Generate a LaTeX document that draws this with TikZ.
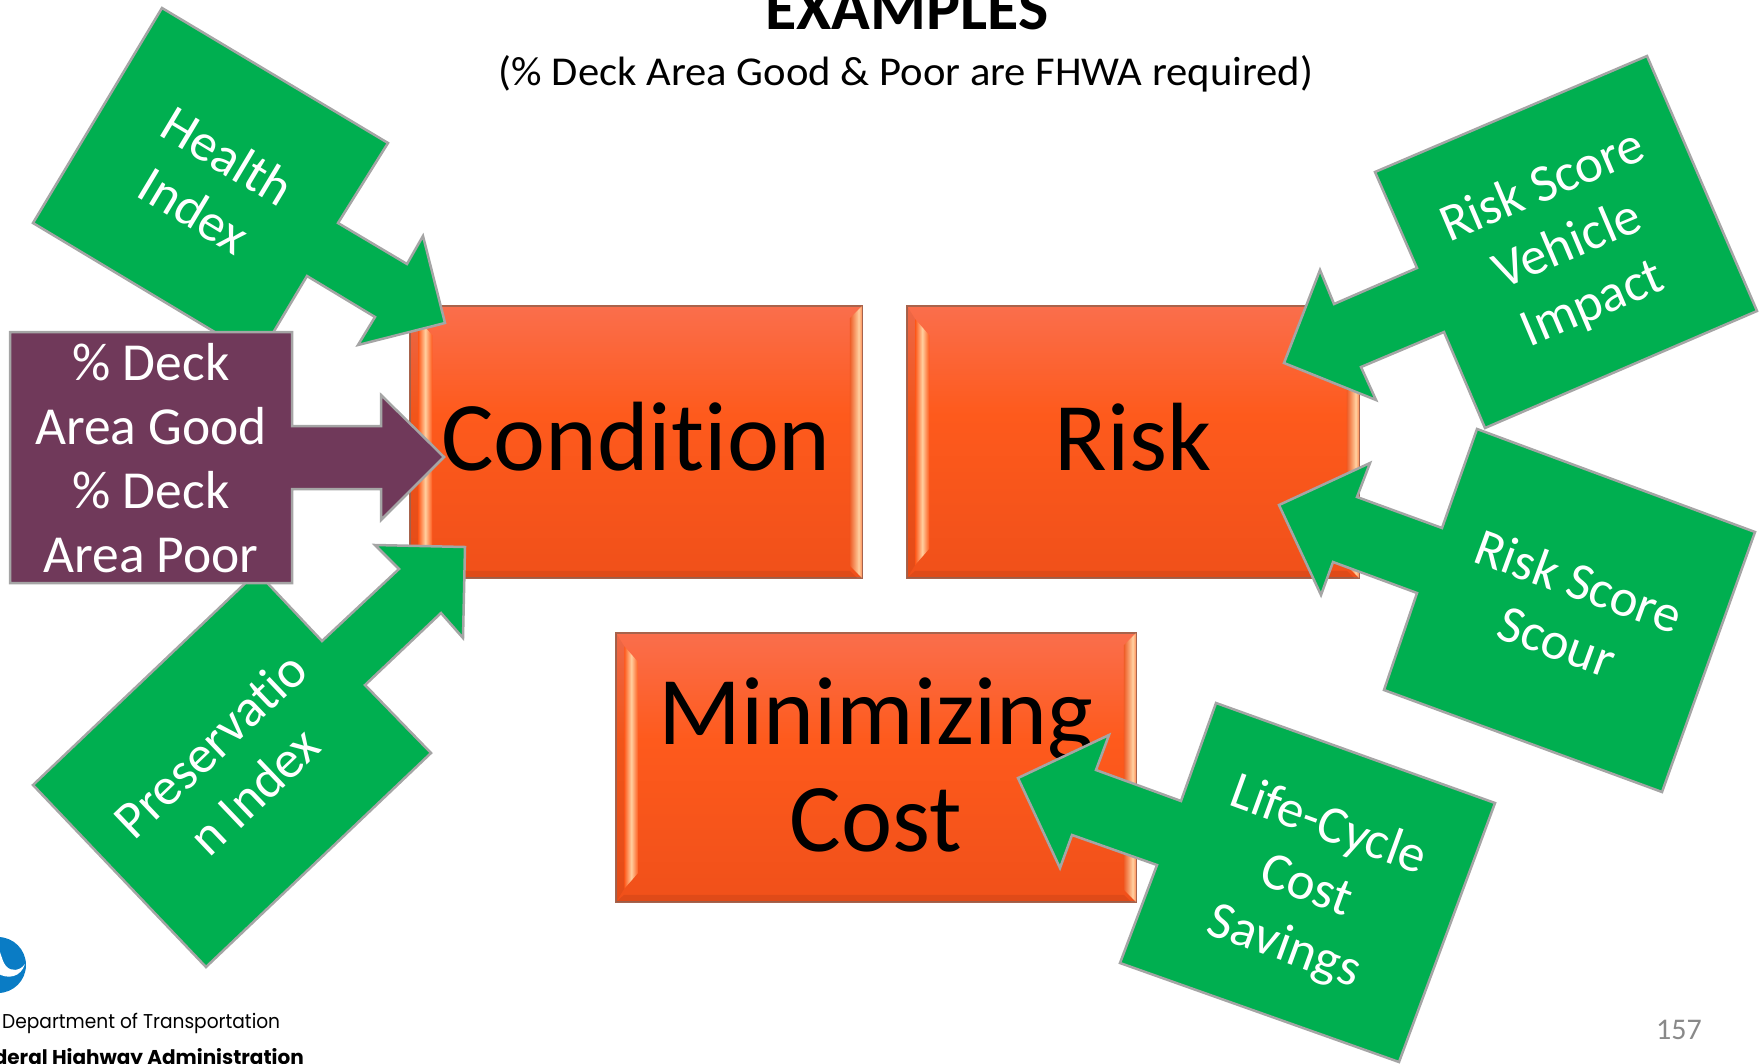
\documentclass[tikz,border=0pt]{standalone}
\usepackage{fontspec}
\setmainfont[Ligatures=NoCommon]{Carlito}
\newfontfamily\logofont{Poppins}
\usetikzlibrary{calc}
\definecolor{boxtop}{HTML}{FA6E4C}
\definecolor{boxmid}{HTML}{FE5A1C}
\definecolor{boxlow}{HTML}{F0501A}
\definecolor{boxdark}{HTML}{EE5C26}
\definecolor{boxline}{HTML}{A8634C}
\definecolor{stripe}{HTML}{FFCF9F}
\definecolor{leaf}{HTML}{00AF50}
\definecolor{plum}{HTML}{70395A}
\definecolor{rim}{HTML}{A5A5A5}
\definecolor{logoblue}{HTML}{0A7CC5}
\definecolor{pagegray}{HTML}{898989}
\pgfdeclareverticalshading{gel}{100bp}{color(0bp)=(boxlow); color(25bp)=(boxlow); color(55bp)=(boxmid); color(75bp)=(boxtop); color(100bp)=(boxtop)}
\tikzstyle{box} = [draw=boxline, line width=1.5pt, shading=gel, inner sep=0pt]
\tikzstyle{callout} = [draw=rim, fill=leaf, line width=2.5pt, line join=miter]
\tikzstyle{lbl} = [text=white, inner sep=0pt, align=center, font=\fontsize{53}{64}\selectfont]
\tikzstyle{big} = [inner sep=0pt, align=center, font=\fontsize{97}{107}\selectfont]
\begin{document}
\begin{tikzpicture}[x=1pt,y=-1pt]
\useasboundingbox (0,0) rectangle (1760,1063);
\node [font=\fontsize{64}{70}\selectfont\bfseries, anchor=base, inner sep=0pt] (title) at (907,29) {EXAMPLES};
\node [font=\fontsize{41}{48}\selectfont, inner sep=0pt, xscale=1.04] (sub) at (906,74) {(\% Deck Area Good \& Poor are FHWA required)};
% the three goals
\node [box, minimum width=452pt, minimum height=272pt] (cond) at (636,442) {};
\node [box, minimum width=452pt, minimum height=272pt] (risk) at (1133,442) {};
\node [box, minimum width=520pt, minimum height=269pt] (cost) at (876,767.5) {};
\foreach \n in {cond,risk,cost} {
	\fill [black, opacity=.05] ($(\n.north west)+(1,1)$) -- ($(\n.north west)+(9,14)$) -- ($(\n.south west)+(9,-14)$) -- ($(\n.south west)+(1,-1)$) -- cycle;
	\shade [left color=boxmid, right color=boxmid, middle color=stripe] ($(\n.north west)+(9,14)$) -- ($(\n.north west)+(23,30)$) -- ($(\n.south west)+(23,-30)$) -- ($(\n.south west)+(9,-14)$) -- cycle;
	\shade [left color=boxdark, right color=stripe] ($(\n.north east)+(-13,13)$) -- ($(\n.north east)+(-4,4)$) -- ($(\n.south east)+(-4,-4)$) -- ($(\n.south east)+(-13,-13)$) -- cycle;
	\shade [left color=stripe, right color=boxmid!50!stripe] ($(\n.north east)+(-4,4)$) -- ($(\n.north east)+(-1,1)$) -- ($(\n.south east)+(-1,-1)$) -- ($(\n.south east)+(-4,-4)$) -- cycle;
	\fill [black, opacity=.07] ($(\n.south west)+(1,-1)$) -- ($(\n.south west)+(9,-8)$) -- ($(\n.south east)+(-13,-8)$) -- ($(\n.south east)+(-6,-1)$) -- cycle;
}
\node [big, font=\fontsize{98.5}{107}\selectfont] (condt) at (636,437) {Condition};
\node [big] (riskt) at (1133,437) {Risk};
\node [big] (costt) at (876,765) {Minimizing\\Cost};
% inputs on the left
\draw [callout] (162,8) -- (388,143) -- (338,223) -- (407,264) -- (423,236) -- (445,323) -- (358,345) -- (375,317) -- (307,276) -- (258,358) -- (33,223) -- cycle;
\node [lbl, rotate=-31] (health) at (211,183) {Health\\Index};
\draw [callout] (33,785) -- (206,967) -- (431,753) -- (365,685) -- (441,613) -- (463,638) -- (465,547) -- (375,545) -- (399,569) -- (322,641) -- (257,572) -- cycle;
\node [lbl, rotate=43.6] (pres) at (232,768) {Preservatio\\n Index};
\draw [draw=rim, fill=plum, line width=2.5pt] (10,332) -- (292,332) -- (292,426) -- (381,426) -- (381,395) -- (444,457) -- (381,520) -- (381,489) -- (292,489) -- (292,583) -- (10,583) -- cycle;
\node [lbl, font=\fontsize{53.5}{64}\selectfont] (deck) at (151,458) {\% Deck\\Area Good\\\% Deck\\Area Poor};
% inputs on the right
\draw [callout] (1647,56) -- (1757,311) -- (1485,428) -- (1444,332) -- (1361,367) -- (1376,400) -- (1284,363) -- (1320,270) -- (1334,304) -- (1417,268) -- (1375,172) -- cycle;
\node [lbl, rotate=23] (vehicle) at (1568,246) {Risk Score\\Vehicle\\Impact};
\draw [callout] (1477,429) -- (1755,532) -- (1662,792) -- (1384,690) -- (1417,593) -- (1333,562) -- (1321,595) -- (1279,505) -- (1370,463) -- (1357,497) -- (1442,528) -- cycle;
\node [lbl, rotate=-20] (scour) at (1568,611) {Risk Score\\Scour};
\draw [callout] (1216,703) -- (1495,803) -- (1399,1062) -- (1120,963) -- (1157,865) -- (1072,835) -- (1060,868) -- (1018,778) -- (1109,735) -- (1096,770) -- (1181,801) -- cycle;
\node [lbl, rotate=-20] (life) at (1306,887) {Life-Cycle\\Cost\\Savings};
% logo, cut by the page edge
\fill [logoblue] (-2,965) circle (28);
\fill [white] (-3,947) .. controls (2,953) and (1,960) .. (6,966) .. controls (11,972) and (20,971) .. (25,964) .. controls (21,977) and (8,980) .. (-3,973) -- cycle;
\node [font=\logofont\fontsize{20}{24}\selectfont, anchor=base west, inner sep=0pt, xscale=.93] (dept) at (2,1028) {Department of Transportation};
\node [font=\logofont\bfseries\fontsize{20}{24}\selectfont, anchor=base east, inner sep=0pt] (fhwa) at (304,1064) {deral Highway Administration};
\node [text=pagegray, font=\fontsize{30}{36}\selectfont, inner sep=0pt] (page) at (1679,1030) {157};
\end{tikzpicture}
\end{document}
